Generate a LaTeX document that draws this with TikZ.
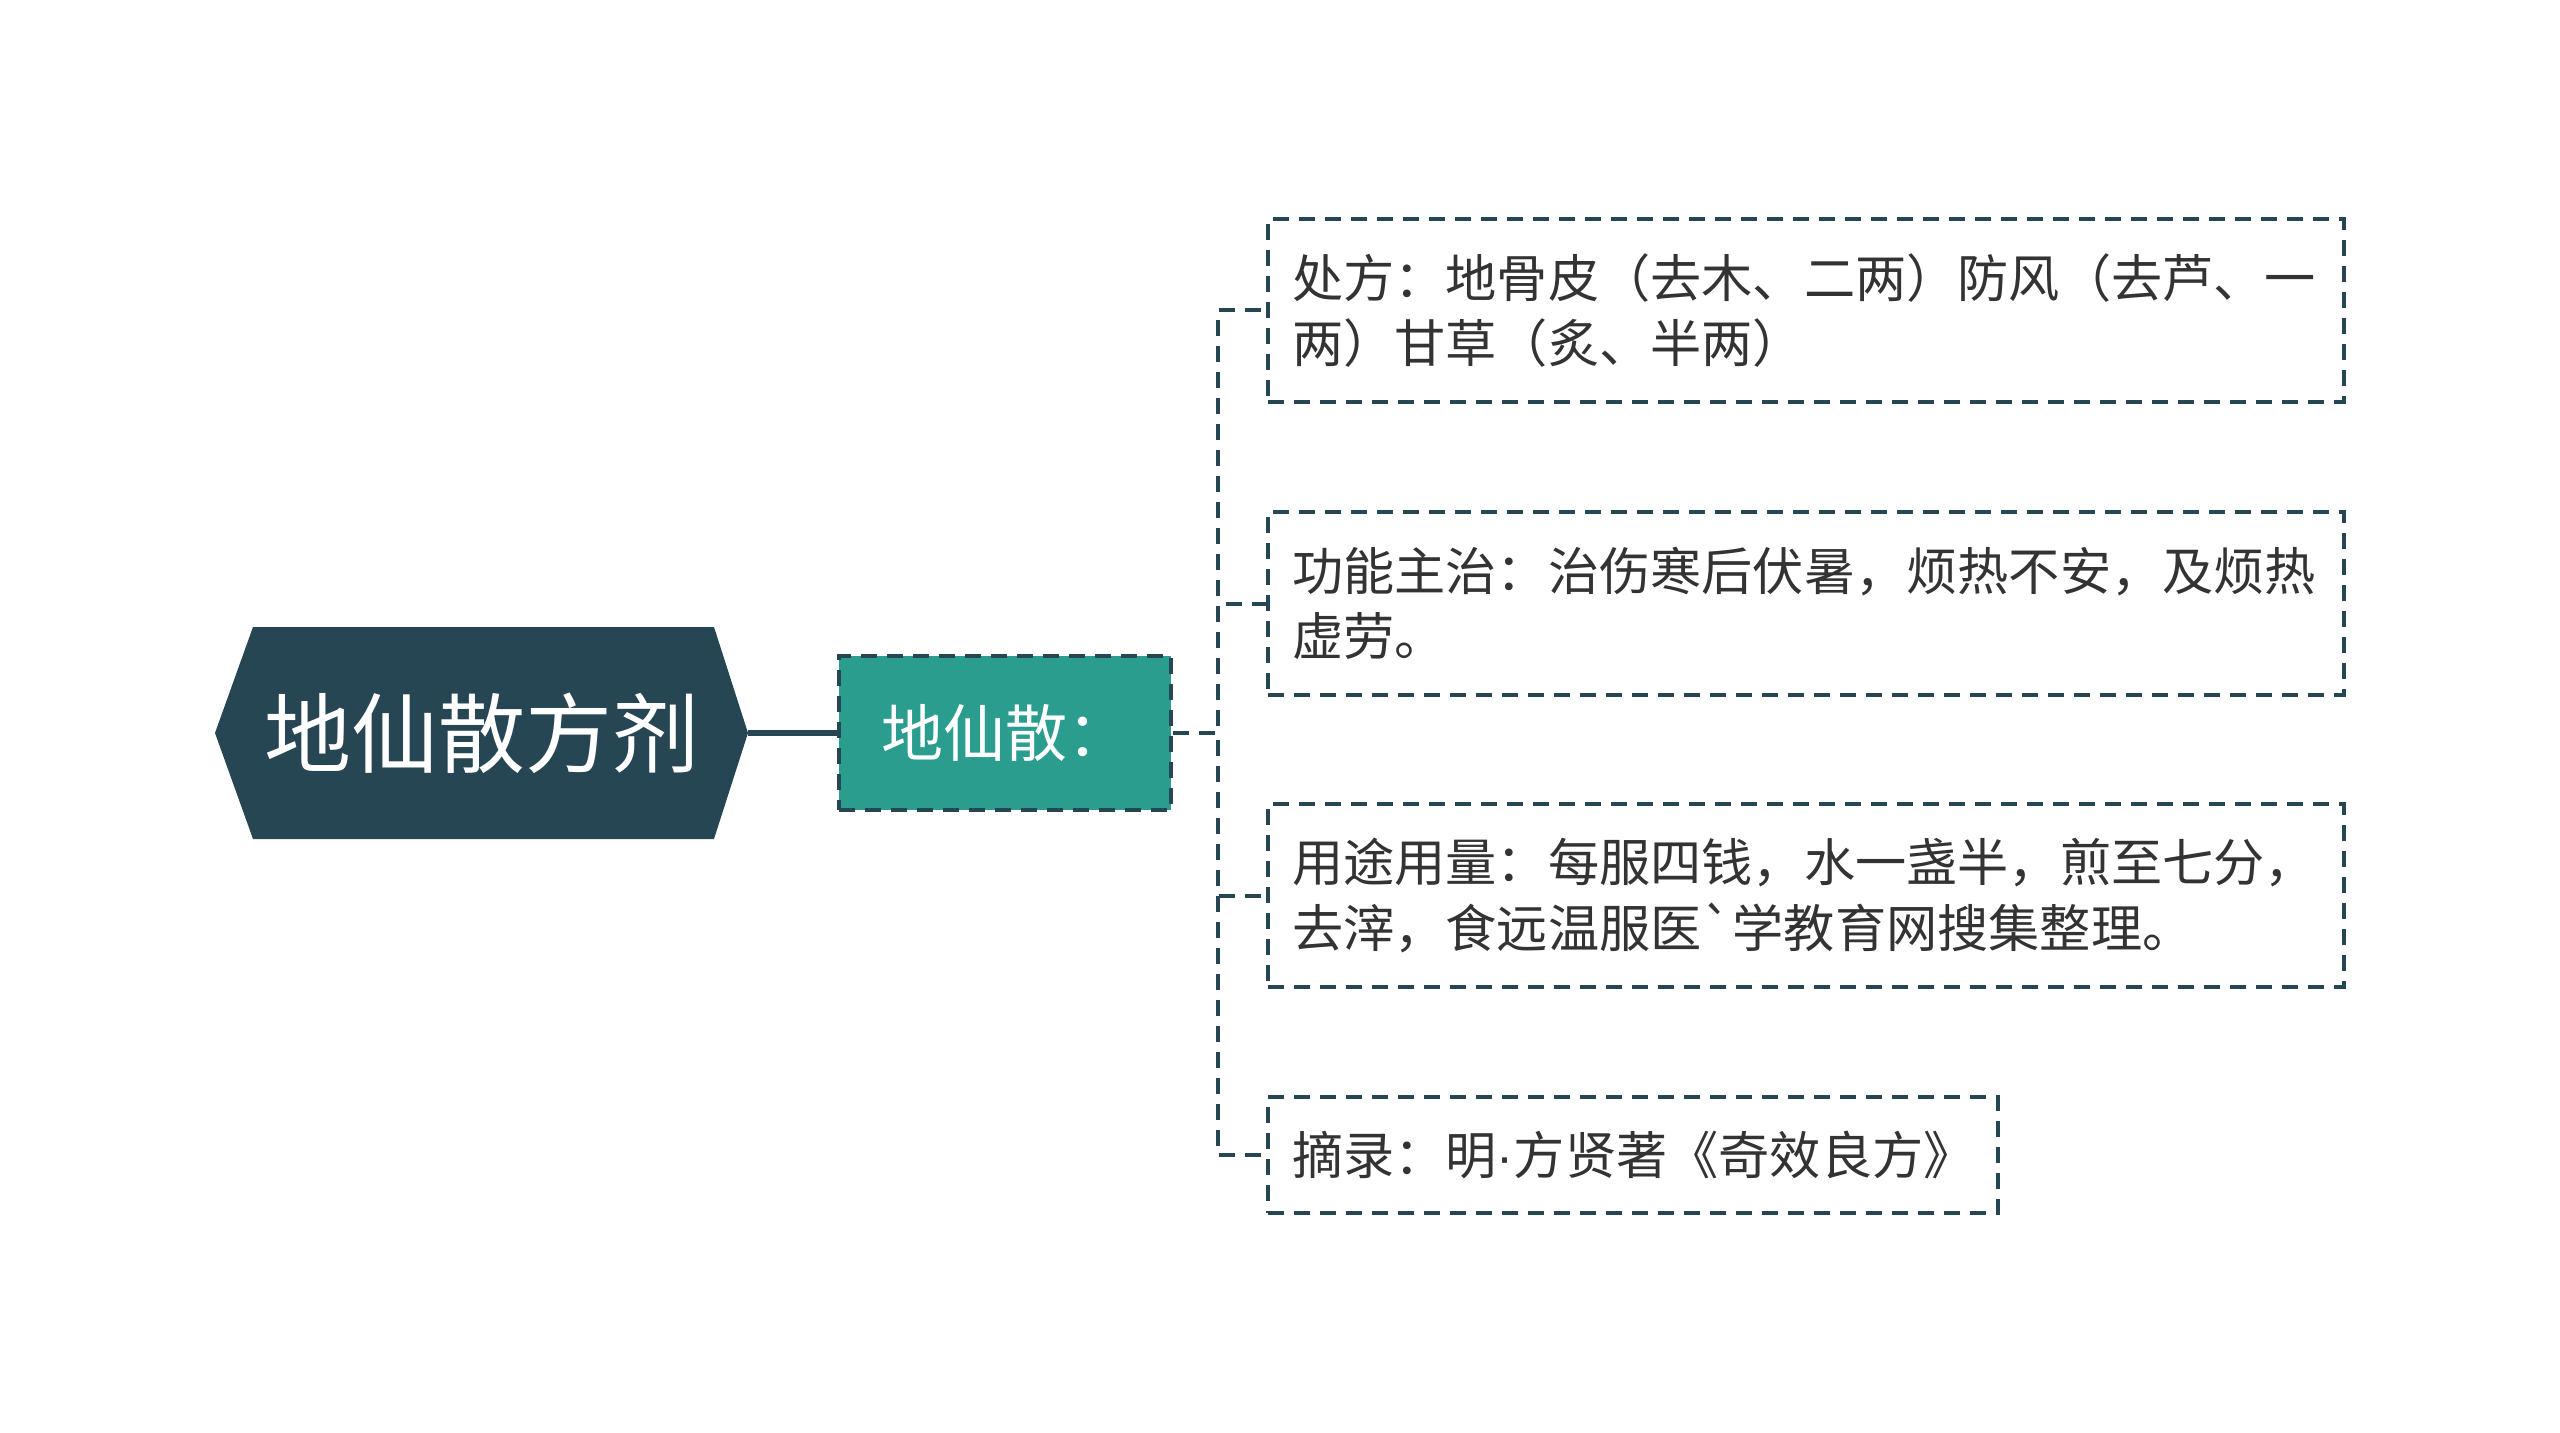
\documentclass[tikz,border=0pt]{standalone}
\usepackage{fontspec}
\setmainfont{Noto Sans CJK SC}[Ligatures=TeXOff]
\newfontfamily\latinf{Liberation Sans}
\usetikzlibrary{positioning}
\definecolor{rootcol}{HTML}{264653}
\definecolor{subcol}{HTML}{2A9D8F}
\definecolor{txtcol}{HTML}{333333}

\begin{document}
\begin{tikzpicture}[x=0.5pt, y=-0.5pt,
    line/.style={draw=rootcol, line width=2pt},
    dashline/.style={line, dash pattern=on 8pt off 5pt},
    leaf/.style={dashline, anchor=west, text=txtcol, align=left, inner xsep=12pt,
      font=\fontsize{25.6pt}{32.5pt}\selectfont},
  ]
  \useasboundingbox (0,0) rectangle (2560,1433);
  % Root:
  \fill[rootcol] (215,733) -- (253,627) -- (714,627) -- (748,733) -- (714,839) -- (253,839) -- cycle;
  \node[text=white, font=\fontsize{43.5pt}{50pt}\selectfont] (root) at (481.5,733) {地仙散方剂};
  \coordinate (roottip) at (748,733);
  % Sub topic:
  \node[dashline, fill=subcol, text=white, minimum width=166pt, minimum height=77pt,
    font=\fontsize{31pt}{36pt}\selectfont] (sub) at (1005,733) {地仙散：};
  \draw[line, line width=2.6pt] (roottip) -- (sub.west);
  % Leaves:
  \node[leaf, text width=514pt, minimum height=91.5pt] (leaf1) at (1266,310.5)
    {处方：地骨皮（去木、二两）防风（去芦、一\\两）甘草（炙、半两）};
  \node[leaf, text width=514pt, minimum height=91.5pt] (leaf2) at (1266,603.5)
    {功能主治：治伤寒后伏暑，烦热不安，及烦热\\虚劳。};
  \node[leaf, text width=514pt, minimum height=91.5pt] (leaf3) at (1266,895.5)
    {用途用量：每服四钱，水一盏半，煎至七分，\\去滓，食远温服医`学教育网搜集整理。};
  \node[leaf, text width=341pt, minimum height=58pt] (leaf4) at (1266,1155)
    {摘录：明{\latinf ·}方贤著《奇效良方》};
  \coordinate (spine) at (1218,733);
  \foreach \n in {1,...,4}
    \draw[dashline] (sub.east) -- (spine) |- (leaf\n.west);
\end{tikzpicture}
\end{document}
